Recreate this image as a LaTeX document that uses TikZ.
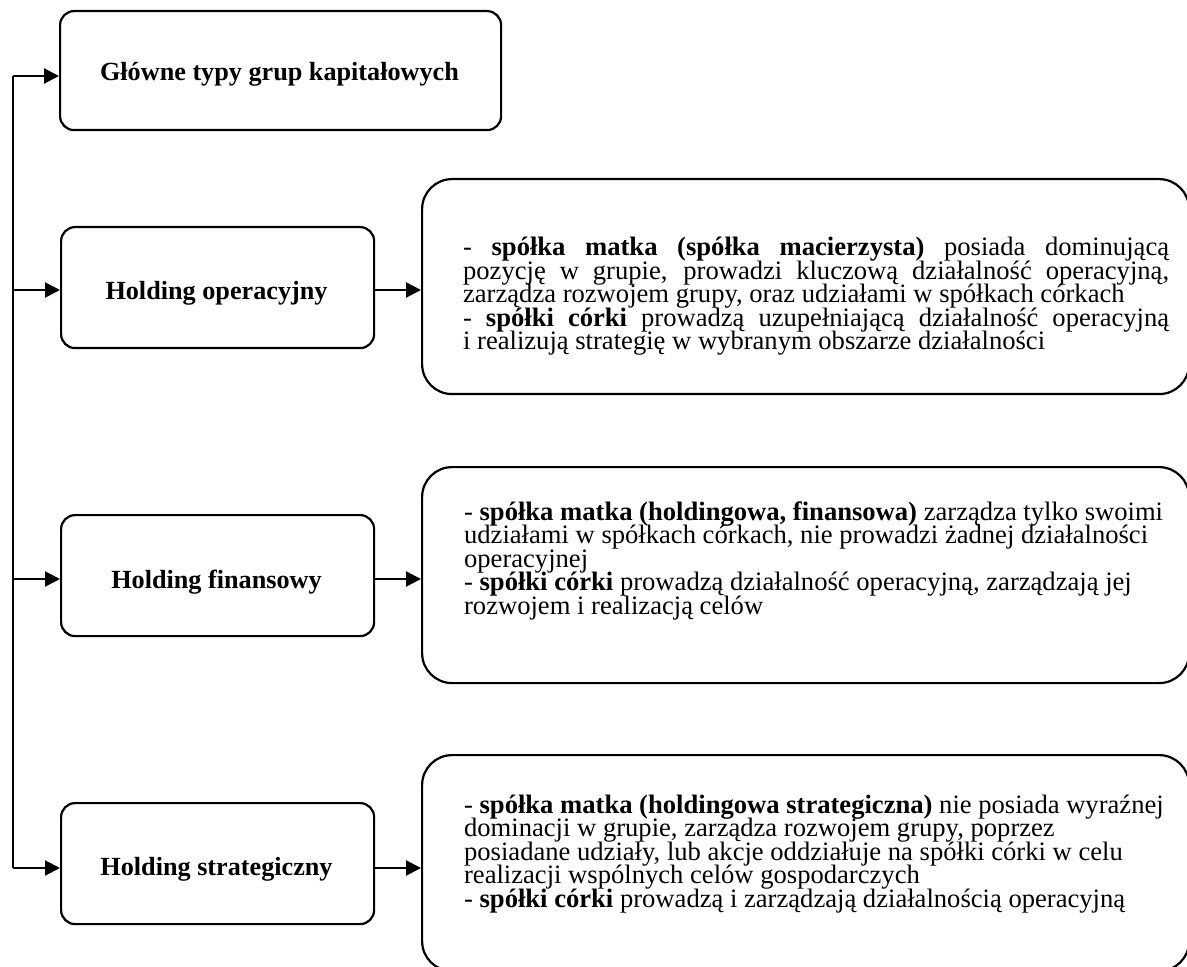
\documentclass[tikz,border=0pt]{standalone}
\usepackage{fontspec}
\setmainfont{Liberation Serif}
\usetikzlibrary{arrows.meta}
\begin{document}
\begin{tikzpicture}[x=0.5pt,y=-0.5pt,
  line width=1.1pt,
  arr/.style={-{Triangle[length=7.5pt,width=7.5pt]}},
  title/.style={inner sep=0pt, font=\fontsize{13.1pt}{11.75pt}\selectfont\bfseries, anchor=base},
  body/.style={inner sep=0pt, font=\fontsize{13.3pt}{11.75pt}\selectfont, anchor=base west},
  smallbox/.style={draw, rounded corners=7pt, inner sep=0pt, anchor=north west,
    minimum width=156.5pt, minimum height=60.5pt},
  bigbox/.style={draw, rounded corners=15pt, inner sep=0pt, anchor=north west,
    minimum width=383.5pt, minimum height=108pt}
]
\useasboundingbox (0,0) rectangle (1187,967);
\clip (0,0) rectangle (1187,967);

% left boxes
\node[smallbox, minimum width=220.5pt, minimum height=59.5pt] (b1) at (59,10) {};
\node[smallbox] (h2) at (60,226) {};
\node[smallbox] (h3) at (60,514) {};
\node[smallbox] (h4) at (60,802) {};

\node[title] (t1) at (279.5,81) {Główne typy grup kapitałowych};
\node[title] (t2) at (216.5,300) {Holding operacyjny};
\node[title] (t3) at (216.5,588) {Holding finansowy};
\node[title] (t4) at (216.5,875) {Holding strategiczny};

% right boxes
\node[bigbox, minimum height=107.5pt] (d2) at (421,178) {};
\node[bigbox] (d3) at (421,466) {};
\node[bigbox] (d4) at (421,754) {};

\node[body] (x2) at (462,256) {\vtop{\lineskiplimit=-50pt
  \hbox to 353pt{- \textbf{spółka matka (spółka macierzysta)} posiada dominującą}
  \hbox to 353pt{pozycję w grupie, prowadzi kluczową działalność operacyjną,}
  \hbox{zarządza rozwojem grupy, oraz udziałami w spółkach córkach}
  \hbox to 353pt{- \textbf{spółki córki} prowadzą uzupełniającą działalność operacyjną}
  \hbox{i realizują strategię w wybranym obszarze działalności}}};

\node[body] (x3) at (463,520) {\vtop{\lineskiplimit=-50pt
  \hbox{- \textbf{spółka matka (holdingowa, finansowa)} zarządza tylko swoimi}
  \hbox{udziałami w spółkach córkach, nie prowadzi żadnej działalności}
  \hbox{operacyjnej}
  \hbox{- \textbf{spółki córki} prowadzą działalność operacyjną, zarządzają jej}
  \hbox{rozwojem i realizacją celów}}};

\node[body] (x4) at (463,813) {\vtop{\lineskiplimit=-50pt
  \hbox{- \textbf{spółka matka (holdingowa strategiczna)} nie posiada wyraźnej}
  \hbox{dominacji w grupie, zarządza rozwojem grupy, poprzez}
  \hbox{posiadane udziały, lub akcje oddziałuje na spółki córki w celu}
  \hbox{realizacji wspólnych celów gospodarczych}
  \hbox{- \textbf{spółki córki} prowadzą i zarządzają działalnością operacyjną}}};

% connectors
\coordinate (j1) at (13,76);
\coordinate (j2) at (13,290);
\coordinate (j3) at (13,579);
\coordinate (j4) at (13,868);
\draw (j1) -- (j4);
\draw[arr] (j1) -- (j1 -| b1.west);
\draw[arr] (j2) -- (j2 -| h2.west);
\draw[arr] (j3) -- (j3 -| h3.west);
\draw[arr] (j4) -- (j4 -| h4.west);
\draw[arr] (j2 -| h2.east) -- (j2 -| d2.west);
\draw[arr] (j3 -| h3.east) -- (j3 -| d3.west);
\draw[arr] (j4 -| h4.east) -- (j4 -| d4.west);
\end{tikzpicture}
\end{document}
